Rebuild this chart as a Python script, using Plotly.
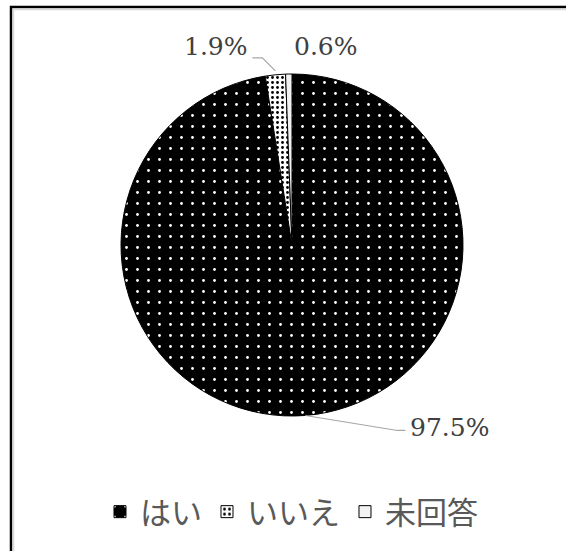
import math
import plotly.graph_objects as go

# ---- data ----
categories = ["はい", "いいえ", "未回答"]
values = [97.5, 1.9, 0.6]
value_labels = ["97.5%", "1.9%", "0.6%"]

# ---- layout constants (pixels) ----
W, H = 566, 551
CX, CY, R = 292, 245, 171


def px(x):
    return x / W


def py(y):
    return (H - y) / H


fig = go.Figure()
fig.add_trace(go.Pie(
    labels=categories,
    values=values,
    sort=False,
    direction="clockwise",
    rotation=0,
    textinfo="none",
    hoverinfo="skip",
    domain=dict(x=[px(CX - R), px(CX + R)], y=[py(CY + R), py(CY - R)]),
    marker=dict(
        colors=["#000000", "#ffffff", "#f2f2f2"],
        line=dict(color="#000000", width=1),
        pattern=dict(
            shape=[".", ".", ""],
            fillmode="replace",
            bgcolor=["#000000", "#ffffff", "#f2f2f2"],
            fgcolor=["#ffffff", "#000000", "#000000"],
            size=[11, 5, 8],
            solidity=[0.05, 0.25, 0.0],
        ),
    ),
))

# mid-angle edge points of each slice (clockwise from top)
total = sum(values)
edges = []
acc = 0.0
for v in values:
    mid = (acc + v / 2) / total * 2 * math.pi
    acc += v
    edges.append((CX + R * math.sin(mid), CY - R * math.cos(mid)))

# label offsets from edge point (pixels)
label_offsets = [(144, 12), (-59, -28), (37, -28)]
annotations = []
for (ex, ey), (dx, dy), txt in zip(edges, label_offsets, value_labels):
    annotations.append(dict(
        x=px(ex + dx), y=py(ey + dy), xref="paper", yref="paper",
        text=txt, showarrow=False, xanchor="center", yanchor="middle",
        font=dict(family="DejaVu Serif", size=25, color="#404040"),
    ))

shapes = []
# leader line for 97.5%
ex, ey = edges[0]
shapes.append(dict(type="path", xref="paper", yref="paper",
                   path=f"M {px(ex)} {py(ey)} L {px(ex + 92)} {py(ey + 15)} L {px(ex + 100)} {py(ey + 15)}",
                   line=dict(color="#a6a6a6", width=1.2)))
# leader line for 1.9%
ex, ey = edges[1]
shapes.append(dict(type="path", xref="paper", yref="paper",
                   path=f"M {px(ex)} {py(ey - 4)} L {px(ex - 13)} {py(ey - 17)} L {px(ex - 23)} {py(ey - 17)}",
                   line=dict(color="#a6a6a6", width=1.2)))

# chart border (top and left visible)
shapes.append(dict(type="rect", xref="paper", yref="paper",
                   x0=px(11), x1=1.05, y0=-0.05, y1=py(7),
                   line=dict(color="#000000", width=2.5), fillcolor="rgba(0,0,0,0)"))
shapes.append(dict(type="rect", xref="paper", yref="paper",
                   x0=px(13.5), x1=1.05, y0=-0.05, y1=py(9.5),
                   line=dict(color="#d9d9d9", width=1.5), fillcolor="rgba(0,0,0,0)"))

fig.update_layout(
    width=W, height=H,
    margin=dict(l=0, r=0, t=0, b=0),
    paper_bgcolor="#ffffff",
    plot_bgcolor="#ffffff",
    showlegend=True,
    legend=dict(
        orientation="h",
        x=0.515, xanchor="center",
        y=py(512), yanchor="middle",
        font=dict(family="Noto Sans CJK JP", size=31, color="#595959"),
        itemwidth=30,
        tracegroupgap=0,
        traceorder="normal",
    ),
    annotations=annotations,
    shapes=shapes,
)

fig.write_html(
    "out.html",
    config={"displayModeBar": False},
    post_script="document.body.style.margin='0';document.body.style.padding='0';",
)
